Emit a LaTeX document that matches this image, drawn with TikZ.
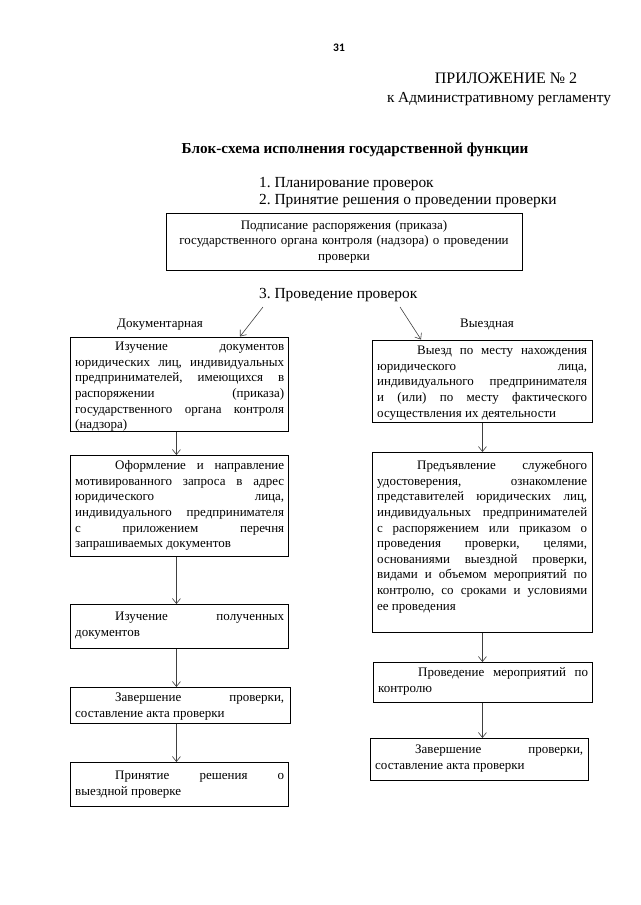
\documentclass[tikz,border=0pt]{standalone}
\usepackage{fontspec}
\setmainfont{Liberation Serif}
\newfontfamily\numfont{Carlito}
\usetikzlibrary{arrows.meta}
\newcommand\bodyfs{\fontsize{13}{15.6}\selectfont}
\newcommand\headfs{\fontsize{15.4}{19}\selectfont}
\newcommand\fl{\rule{0pt}{10pt}}
\newcommand\ind{\hspace*{40pt}}
\begin{document}
\frenchspacing
\begin{tikzpicture}[x=1pt,y=-1pt,
  frame/.style={draw, line width=0.9pt, anchor=north west, inner sep=0pt},
  txt/.style={anchor=north west, inner sep=0pt, text width=209pt, align=justify, font=\bodyfs},
  link/.style={draw=black!75, line width=0.6pt, -{Straight Barb[length=5pt,width=8pt]}},
  lbl/.style={anchor=base, inner sep=0pt, font=\bodyfs},
  head/.style={anchor=base west, inner sep=0pt, font=\headfs}]
\useasboundingbox (0,0) rectangle (640,905);
% header texts
\node[anchor=base, inner sep=0pt, font=\numfont\bfseries\fontsize{11.5}{13}\selectfont] (pg) at (339,51) {31};
\node[anchor=base, inner sep=0pt, font=\fontsize{16}{19}\selectfont] (app) at (506,83) {ПРИЛОЖЕНИЕ № 2};
\node[anchor=base, inner sep=0pt, font=\fontsize{15.3}{19}\selectfont] (reg) at (499,102.5) {к Административному регламенту};
\node[anchor=base, inner sep=0pt, font=\bfseries\fontsize{15.2}{17}\selectfont] (title) at (355,153) {Блок-схема исполнения государственной функции};
\node[head] (s1) at (259,187) {1. Планирование проверок};
\node[head] (s2) at (259,204.5) {2. Принятие решения о проведении проверки};
\node[head] (s3) at (259,298) {3. Проведение проверок};
% top box
\node[frame, minimum width=356pt, minimum height=57pt] (top) at (166,213) {};
\node[anchor=north, inner sep=0pt, text width=350pt, align=center, font=\bodyfs] (ttop) at (344,219)
  {\fl Подписание распоряжения (приказа)\\государственного органа контроля (надзора) о проведении\\проверки};
% branch labels
\node[lbl] (ldoc) at (160,327) {Документарная};
\node[lbl] (lvyj) at (487,327) {Выездная};
% left column
\node[frame, minimum width=218pt, minimum height=94pt] (L1) at (70,337) {};
\node[txt] (tL1) at (75,340.5) {\fl\ind Изучение документов\linebreak юридических лиц, индивидуальных\linebreak предпринимателей, имеющихся в\linebreak распоряжении (приказа)\linebreak государственного органа контроля\linebreak (надзора)};
\node[frame, minimum width=218pt, minimum height=101pt] (L2) at (70,455) {};
\node[txt] (tL2) at (75,459.5) {\fl\ind Оформление и направление\linebreak мотивированного запроса в адрес\linebreak юридического лица,\linebreak индивидуального предпринимателя\linebreak с приложением перечня\linebreak запрашиваемых документов};
\node[frame, minimum width=218pt, minimum height=44pt] (L3) at (70,604) {};
\node[txt] (tL3) at (75,610.5) {\fl\ind Изучение полученных\linebreak документов};
\node[frame, minimum width=220pt, minimum height=36pt] (L4) at (70,687) {};
\node[txt] (tL4) at (75,691.5) {\fl\ind Завершение проверки,\linebreak составление акта проверки};
\node[frame, minimum width=218pt, minimum height=44pt] (L5) at (70,762) {};
\node[txt] (tL5) at (75,769.5) {\fl\ind Принятие решения о\linebreak выездной проверке};
% right column
\node[frame, minimum width=220pt, minimum height=82pt] (R1) at (372,340) {};
\node[txt, text width=210pt] (tR1) at (377,344.5) {\fl\ind Выезд по месту нахождения\linebreak юридического лица,\linebreak индивидуального предпринимателя\linebreak и (или) по месту фактического\linebreak осуществления их деятельности};
\node[frame, minimum width=220pt, minimum height=180pt] (R2) at (372,452) {};
\node[txt, text width=210pt] (tR2) at (377,459.5) {\fl\ind Предъявление служебного\linebreak удостоверения, ознакомление\linebreak представителей юридических лиц,\linebreak индивидуальных предпринимателей\linebreak с распоряжением или приказом о\linebreak проведения проверки, целями,\linebreak основаниями выездной проверки,\linebreak видами и объемом мероприятий по\linebreak контролю, со сроками и условиями\linebreak ее проведения};
\node[frame, minimum width=219pt, minimum height=40pt] (R3) at (373,662) {};
\node[txt, text width=210pt] (tR3) at (378,666.5) {\fl\ind Проведение мероприятий по\linebreak контролю};
\node[frame, minimum width=218pt, minimum height=42pt] (R4) at (370,738) {};
\node[txt, text width=208pt] (tR4) at (375,743.5) {\fl\ind Завершение проверки,\linebreak составление акта проверки};
% connectors
\coordinate (aLs) at (263,307);
\coordinate (aLe) at (240,336.5);
\coordinate (aRs) at (400,307);
\coordinate (aRe) at (421,339.5);
\draw[link] (aLs) -- (aLe);
\draw[link] (aRs) -- (aRe);
\draw[link] ([xshift=-3pt]L1.south) -- ([xshift=-3pt]L1.south |- L2.north);
\draw[link] ([xshift=-3pt]L2.south) -- ([xshift=-3pt]L2.south |- L3.north);
\draw[link] ([xshift=-3pt]L3.south) -- ([xshift=-3pt]L3.south |- L4.north);
\draw[link] ([xshift=-3pt]L5.north |- L4.south) -- ([xshift=-3pt]L5.north);
\draw[link] (R1.south) -- (R1.south |- R2.north);
\draw[link] (R2.south) -- (R2.south |- R3.north);
\draw[link] (R2.south |- R3.south) -- (R2.south |- R4.north);
\end{tikzpicture}
\end{document}
